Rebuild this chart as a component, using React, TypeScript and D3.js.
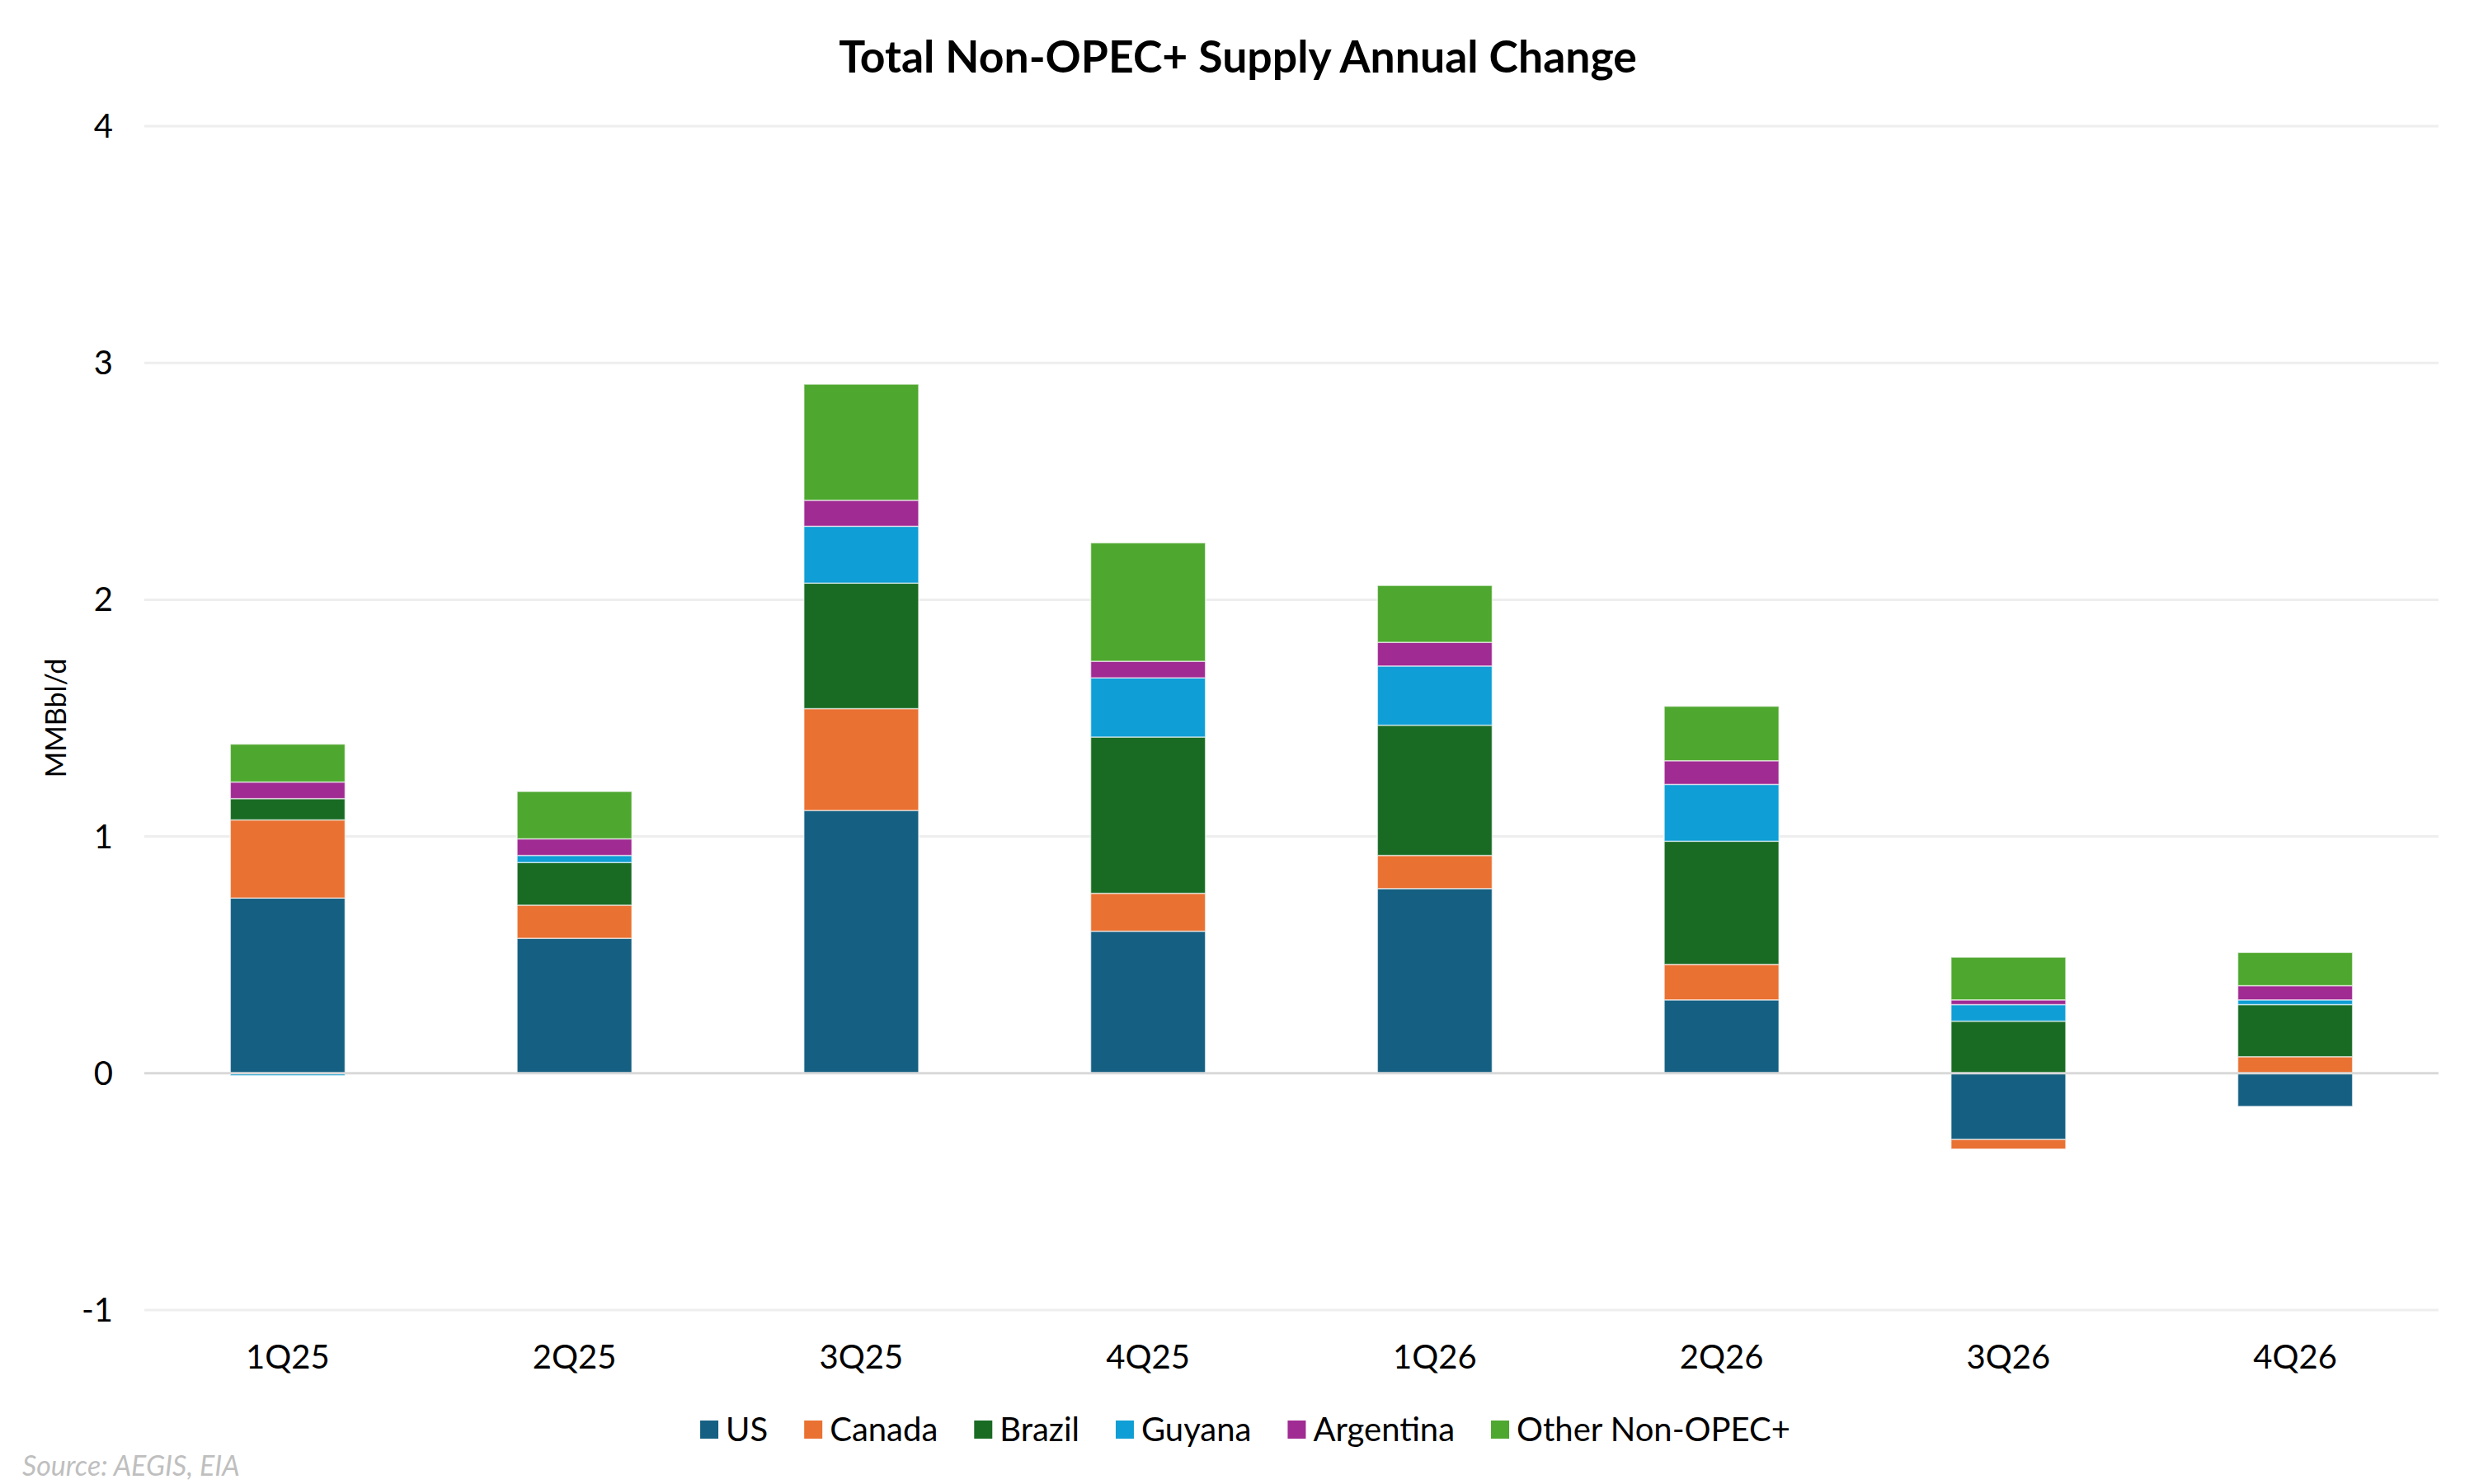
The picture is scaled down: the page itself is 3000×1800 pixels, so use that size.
import * as d3 from "d3";
import { useEffect, useRef } from "react";

const quarters = ["1Q25", "2Q25", "3Q25", "4Q25", "1Q26", "2Q26", "3Q26", "4Q26"];
const seriesNames = ["US", "Canada", "Brazil", "Guyana", "Argentina", "Other Non-OPEC+"];
const usValues = [0.74, 0.57, 1.11, 0.6, 0.78, 0.31, -0.28, -0.14];
const canadaValues = [0.33, 0.14, 0.43, 0.16, 0.14, 0.15, -0.04, 0.07];
const brazilValues = [0.09, 0.18, 0.53, 0.66, 0.55, 0.52, 0.22, 0.22];
const guyanaValues = [-0.01, 0.03, 0.24, 0.25, 0.25, 0.24, 0.07, 0.02];
const argentinaValues = [0.07, 0.07, 0.11, 0.07, 0.1, 0.1, 0.02, 0.06];
const otherValues = [0.16, 0.2, 0.49, 0.5, 0.24, 0.23, 0.18, 0.14];
const yTicks = [-1, 0, 1, 2, 3, 4];
const colors = ["#156082", "#E97132", "#196B24", "#0F9ED5", "#A02B93", "#4EA72E"];

export default function App() {
  const svgRef = useRef<SVGSVGElement | null>(null);

  useEffect(() => {
    const width = 3000;
    const height = 1800;
    const font = "Lato, 'Open Sans', sans-serif";
    const svg = d3.select(svgRef.current).attr("width", width).attr("height", height);
    svg.selectAll("*").remove();

    const allValues = [usValues, canadaValues, brazilValues, guyanaValues, argentinaValues, otherValues];
    const rows = quarters.map((q, i) => {
      const row: Record<string, any> = { quarter: q };
      seriesNames.forEach((s, j) => (row[s] = allValues[j][i]));
      return row;
    });

    const x = d3.scaleBand().domain(quarters).range([175, 2957]).paddingInner(0.6).paddingOuter(0.3);
    const y = d3.scaleLinear().domain([-1, 4]).range([1589, 153]);

    svg.append("rect").attr("width", width).attr("height", height).attr("fill", "#fff");

    // title
    svg.append("text")
      .attr("x", 1501).attr("y", 88)
      .attr("text-anchor", "middle")
      .attr("font-family", font).attr("font-weight", 700).attr("font-size", 53.5)
      .attr("fill", "#000")
      .text("Total Non-OPEC+ Supply Annual Change");

    // grid
    svg.append("g").selectAll("line")
      .data(yTicks.filter((t) => t !== 0))
      .enter().append("line")
      .attr("x1", 175).attr("x2", 2957)
      .attr("y1", (d) => y(d)).attr("y2", (d) => y(d))
      .attr("stroke", "#eeeeee").attr("stroke-width", 3);

    // y tick labels
    svg.append("g").selectAll("text")
      .data(yTicks)
      .enter().append("text")
      .attr("x", 137).attr("y", (d) => y(d))
      .attr("dy", "0.35em")
      .attr("text-anchor", "end")
      .attr("font-family", font).attr("font-size", 40).attr("fill", "#000")
      .text((d) => String(d));

    // y axis title
    svg.append("text")
      .attr("transform", `translate(80, ${(y(4) + y(-1)) / 2}) rotate(-90)`)
      .attr("text-anchor", "middle")
      .attr("font-family", font).attr("font-size", 34).attr("fill", "#000")
      .text("MMBbl/d");

    // bars
    const stack = d3.stack<Record<string, any>>().keys(seriesNames).offset(d3.stackOffsetDiverging);
    const layers = stack(rows);
    svg.append("g").selectAll("g")
      .data(layers)
      .enter().append("g")
      .attr("fill", (_, i) => colors[i])
      .selectAll("rect")
      .data((d) => d)
      .enter().append("rect")
      .attr("x", (d) => x(d.data.quarter) as number)
      .attr("width", x.bandwidth())
      .attr("y", (d) => y(Math.max(d[0], d[1])))
      .attr("height", (d) => Math.abs(y(d[0]) - y(d[1])))
      .attr("stroke", "#ffffff").attr("stroke-width", 1.5).attr("stroke-opacity", 0.6);

    // zero line
    svg.append("line")
      .attr("x1", 175).attr("x2", 2957)
      .attr("y1", y(0)).attr("y2", y(0))
      .attr("stroke", "#d9d9d9").attr("stroke-width", 3);

    // x labels
    svg.append("g").selectAll("text")
      .data(quarters)
      .enter().append("text")
      .attr("x", (d) => (x(d) as number) + x.bandwidth() / 2)
      .attr("y", 1660)
      .attr("text-anchor", "middle")
      .attr("font-family", font).attr("font-size", 40).attr("fill", "#000")
      .text((d) => d);

    // legend
    const legend = svg.append("g");
    const gap = 44;
    let cursor = 0;
    seriesNames.forEach((name, i) => {
      const item = legend.append("g").attr("transform", `translate(${cursor},0)`);
      item.append("rect").attr("x", 0).attr("y", -25).attr("width", 22).attr("height", 22).attr("fill", colors[i]);
      const t = item.append("text")
        .attr("x", 31).attr("y", 0)
        .attr("font-family", font).attr("font-size", 40).attr("fill", "#000")
        .text(name);
      const w = (t.node() as SVGTextElement).getComputedTextLength();
      cursor += 31 + w + gap;
    });
    const legendWidth = cursor - gap;
    legend.attr("transform", `translate(${1510 - legendWidth / 2}, 1748)`);

    // source
    svg.append("text")
      .attr("x", 27).attr("y", 1790)
      .attr("font-family", font).attr("font-style", "italic").attr("font-size", 34)
      .attr("fill", "#bfbfbf")
      .text("Source: AEGIS, EIA");
  }, []);

  return (
    <div style={{ position: "absolute", left: 0, top: 0 }}>
      <svg ref={svgRef} style={{ display: "block" }}></svg>
    </div>
  );
}
